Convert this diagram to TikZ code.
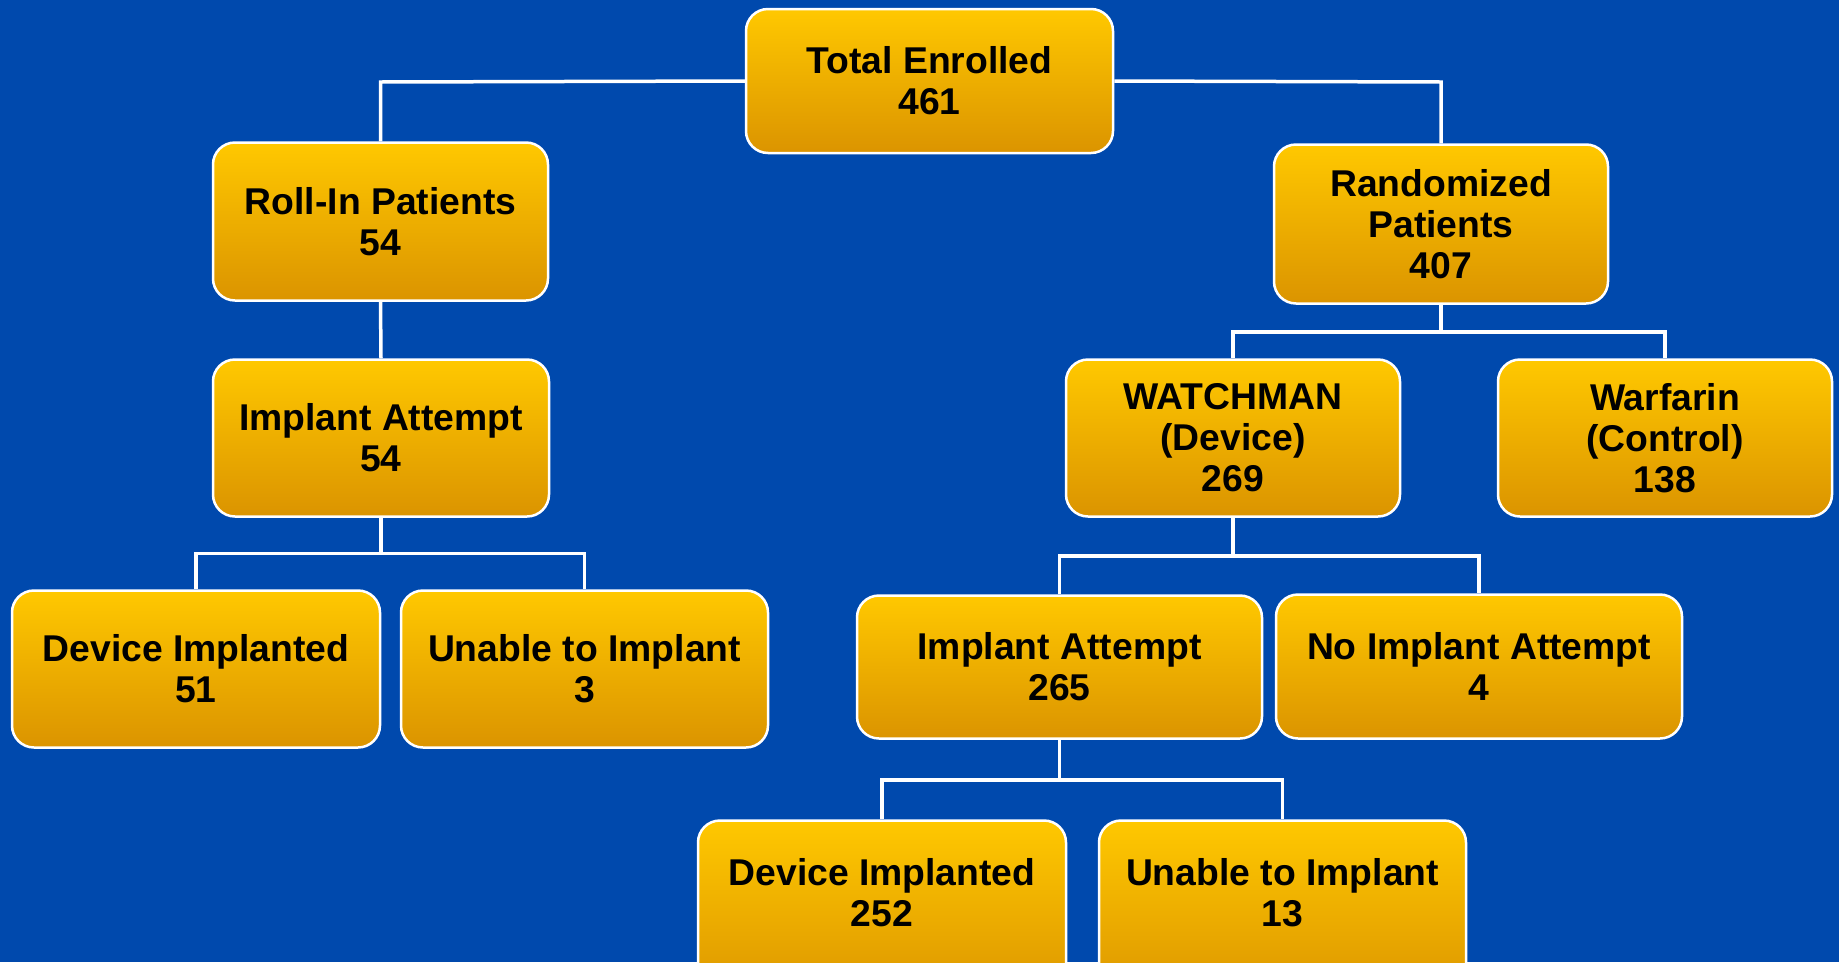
\documentclass[tikz,border=0pt]{standalone}
\usepackage{fontspec}
\setmainfont{Liberation Sans}
\usetikzlibrary{calc}
\definecolor{bgblue}{RGB}{0,73,173}
\definecolor{boxtop}{RGB}{255,200,0}
\definecolor{boxbot}{RGB}{219,148,0}
\tikzset{
  box/.style={shade, top color=boxtop, bottom color=boxbot, draw=white, line width=2.5pt,
    rounded corners=22pt, inner sep=0pt, align=center,
    font=\fontsize{37.3}{41}\selectfont\bfseries, text=black},
  link/.style={draw=white, line width=3.5pt}
}
\begin{document}
\begin{tikzpicture}[x=1pt,y=-1pt]
\fill[bgblue] (0,0) rectangle (1839,962);
\useasboundingbox (0,0) rectangle (1839,962);
% connectors
\coordinate (tl) at (380.5,82);
\coordinate (tr) at (1441,82);
\coordinate (j1) at (381,553.5);
\coordinate (j2) at (1441,332);
\coordinate (j3) at (1233,556);
\coordinate (j4) at (1059.5,780);
% boxes
\node[box, minimum width=367pt, minimum height=144pt] (tot) at (929.5,81) {Total Enrolled\\461};
\node[box, minimum width=335pt, minimum height=158pt] (roll) at (380.5,221.5) {Roll-In Patients\\54};
\node[box, minimum width=336pt, minimum height=157pt] (ia1) at (381,438) {Implant Attempt\\54};
\node[box, minimum width=368pt, minimum height=157pt] (di1) at (196,669) {Device Implanted\\51};
\node[box, minimum width=367pt, minimum height=157pt] (ui1) at (584.5,669) {Unable to Implant\\3};
\node[box, minimum width=334pt, minimum height=159pt] (rand) at (1441,224) {Randomized\\Patients\\407};
\node[box, minimum width=334pt, minimum height=157pt] (watch) at (1233,438) {WATCHMAN\\(Device)\\269};
\node[box, minimum width=334pt, minimum height=157pt] (warf) at (1665,438) {Warfarin\\(Control)\\138};
\node[box, minimum width=405pt, minimum height=143pt] (ia2) at (1059.5,667) {Implant Attempt\\265};
\node[box, minimum width=406pt, minimum height=144pt] (noia) at (1479,666.5) {No Implant Attempt\\4};
\node[box, minimum width=368pt, minimum height=184pt] (di2) at (882,912.5) {Device Implanted\\252\\\mbox{}};
\node[box, minimum width=367pt, minimum height=184pt] (ui2) at (1282.5,912.5) {Unable to Implant\\13\\\mbox{}};
% links
\draw[link] (tot.west) -- (tl) -- (roll.north);
\draw[link] (tot.east) -- (tr) -- (rand.north);
\draw[link] (roll.south) -- (ia1.north);
\draw[link] (ia1.south) -- (j1);
\draw[link] (di1.north) |- (j1) -| (ui1.north);
\draw[link] (rand.south) -- (j2);
\draw[link] (watch.north) |- (j2) -| (warf.north);
\draw[link] (watch.south) -- (j3);
\draw[link] (ia2.north) |- (j3) -| (noia.north);
\draw[link] (ia2.south) -- (j4);
\draw[link] (di2.north) |- (j4) -| (ui2.north);
\end{tikzpicture}
\end{document}
